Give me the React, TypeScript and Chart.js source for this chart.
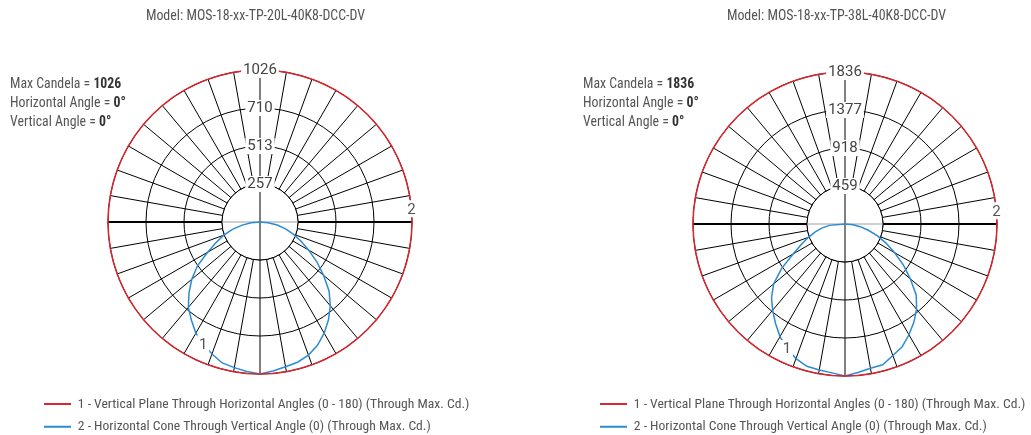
import React, { useEffect, useRef } from 'react';
import { Chart, registerables } from 'chart.js';

Chart.register(...registerables);

const FONT = '"Roboto Condensed", Roboto, sans-serif';
const NUM_FONT = 'Roboto, "Roboto Condensed", sans-serif';

// vertical angles (gamma, from nadir) at which candela values are read
const verticalAngles = [0, 5, 10, 15, 20, 25, 30, 35, 40, 45, 50, 55, 60, 65, 70, 75, 80, 85, 90, 95, 100, 105, 110, 115, 120, 125, 130, 135, 140, 145, 150, 155, 160, 165, 170, 175, 180];

const legendTexts = [
  '1 - Vertical Plane Through Horizontal Angles (0 - 180) (Through Max. Cd.)',
  '2 - Horizontal Cone Through Vertical Angle (0) (Through Max. Cd.)',
];

// ---- left chart (20L) ----
const leftModel = 'Model: MOS-18-xx-TP-20L-40K8-DCC-DV';
const leftMaxCandela = 1026;
const leftTickLabels = ['0', '257', '513', '710', '1026'];
const leftPlane0 = [1026, 1010, 992, 980, 956, 918, 866, 806, 738, 660, 560, 468, 380, 304, 239, 179, 118, 55, 0, 0, 0, 0, 0, 0, 0, 0, 0, 0, 0, 0, 0, 0, 0, 0, 0, 0, 0];
const leftPlane180 = [1026, 1013, 998, 985, 948, 907, 866, 808, 752, 678, 601, 515, 408, 327, 260, 193, 122, 60, 0, 0, 0, 0, 0, 0, 0, 0, 0, 0, 0, 0, 0, 0, 0, 0, 0, 0, 0];
const leftCone = [1026, 1026, 1026, 1026, 1026, 1026, 1026, 1026, 1026, 1026, 1026, 1026, 1026, 1026, 1026, 1026, 1026, 1026, 1026, 1026, 1026, 1026, 1026, 1026, 1026, 1026, 1026, 1026, 1026, 1026, 1026, 1026, 1026, 1026, 1026, 1026, 1026];

// ---- right chart (38L) ----
const rightModel = 'Model: MOS-18-xx-TP-38L-40K8-DCC-DV';
const rightMaxCandela = 1836;
const rightTickLabels = ['0', '459', '918', '1377', '1836'];
const rightPlane0 = [1836, 1800, 1770, 1760, 1690, 1635, 1545, 1450, 1345, 1217, 1030, 860, 690, 546, 418, 292, 186, 100, 0, 0, 0, 0, 0, 0, 0, 0, 0, 0, 0, 0, 0, 0, 0, 0, 0, 0, 0];
const rightPlane180 = [1836, 1805, 1790, 1780, 1730, 1660, 1570, 1464, 1360, 1255, 1124, 934, 720, 580, 470, 376, 285, 190, 0, 0, 0, 0, 0, 0, 0, 0, 0, 0, 0, 0, 0, 0, 0, 0, 0, 0, 0];
const rightCone = [1836, 1836, 1836, 1836, 1836, 1836, 1836, 1836, 1836, 1836, 1836, 1836, 1836, 1836, 1836, 1836, 1836, 1836, 1836, 1836, 1836, 1836, 1836, 1836, 1836, 1836, 1836, 1836, 1836, 1836, 1836, 1836, 1836, 1836, 1836, 1836, 1836];

const horizontalAngle = '0°';
const verticalAngle = '0°';

const RED = '#d7262e';
const BLUE = '#2b8bd3';

// polar spokes every 5 degrees, clockwise from the top of the diagram
const spokeAngles = Array.from({ length: 72 }, (_, i) => i * 5);

// map a spoke (clockwise from top) to the value of the right plane (0..180) or left plane
function buildSeries(rightHalf: number[], leftHalf: number[]) {
  return spokeAngles.map((theta) => {
    if (theta <= 180) return rightHalf[verticalAngles.indexOf(180 - theta)];
    return leftHalf[verticalAngles.indexOf(theta - 180)];
  });
}

const photometricPlugin = {
  id: 'photometric',
  beforeDatasetsDraw(chart: any) {
    const r = chart.scales.r;
    const ctx = chart.ctx;
    const cx = r.xCenter;
    const cy = r.yCenter;
    const hollow = r.getDistanceFromCenterForValue(r.ticks[1].value);
    ctx.save();
    ctx.fillStyle = '#fff';
    ctx.beginPath();
    ctx.arc(cx, cy, hollow, 0, Math.PI * 2);
    ctx.fill();
    ctx.lineWidth = 1;
    ctx.strokeStyle = '#000';
    ctx.stroke();
    ctx.strokeStyle = '#a0a0a0';
    ctx.beginPath();
    ctx.moveTo(cx - hollow, cy);
    ctx.lineTo(cx + hollow, cy);
    ctx.stroke();
    ctx.strokeStyle = '#000';
    ctx.beginPath();
    ctx.moveTo(cx, cy - hollow);
    ctx.lineTo(cx, cy + hollow);
    ctx.stroke();
    ctx.restore();
  },
  afterDatasetsDraw(chart: any, _args: any, opts: any) {
    const ctx = chart.ctx;
    ctx.save();
    ctx.font = `15px ${NUM_FONT}`;
    ctx.textAlign = 'center';
    ctx.textBaseline = 'middle';
    (opts.seriesLabels || []).forEach((s: any) => {
      const pt = chart.getDatasetMeta(s.datasetIndex).data[s.index];
      ctx.fillStyle = '#fff';
      ctx.fillRect(pt.x - 6, pt.y - 8.5, 12, 17);
      ctx.fillStyle = '#555';
      ctx.fillText(s.text, pt.x, pt.y + 1);
    });
    ctx.restore();
  },
  afterDraw(chart: any, _args: any, opts: any) {
    const ctx = chart.ctx;
    ctx.save();
    ctx.textBaseline = 'middle';
    ctx.fillStyle = '#555';
    ctx.font = `13.9px ${FONT}`;
    ctx.textAlign = 'center';
    ctx.fillText(opts.title, opts.titleX, 17);
    ctx.textAlign = 'left';
    const lines = [
      ['Max Candela = ', String(opts.maxCandela)],
      ['Horizontal Angle = ', opts.hAngle],
      ['Vertical Angle = ', opts.vAngle],
    ];
    lines.forEach((ln, i) => {
      const y = 85 + i * 19;
      ctx.font = `13.8px ${FONT}`;
      ctx.fillStyle = '#555';
      ctx.fillText(ln[0], opts.infoX, y);
      const w = ctx.measureText(ln[0]).width;
      ctx.font = `bold 13.8px ${FONT}`;
      ctx.fillStyle = '#333';
      ctx.fillText(ln[1], opts.infoX + w, y);
    });
    ctx.restore();
  },
};

type PanelProps = {
  left: number;
  width: number;
  top: number;
  titleX: number;
  infoX: number;
  model: string;
  maxCandela: number;
  tickLabels: string[];
  plane0: number[];
  plane180: number[];
  cone: number[];
  legendGap: number;
};

function Panel(p: PanelProps) {
  const ref = useRef<HTMLCanvasElement>(null);
  useEffect(() => {
    if (!ref.current) return;
    const chart = new Chart(ref.current, {
      type: 'radar',
      data: {
        labels: spokeAngles.map(String),
        datasets: [
          {
            label: legendTexts[0],
            data: buildSeries(p.cone, p.cone),
            borderColor: RED,
            backgroundColor: RED,
            borderWidth: 1.5,
            pointRadius: 0,
            fill: false,
          },
          {
            label: legendTexts[1],
            data: buildSeries(p.plane0, p.plane180),
            borderColor: BLUE,
            backgroundColor: BLUE,
            borderWidth: 1.5,
            pointRadius: 0,
            fill: false,
          },
        ],
      },
      options: {
        animation: false,
        responsive: true,
        maintainAspectRatio: false,
        layout: { padding: { top: p.top, left: 35, right: 35, bottom: 0.5 } },
        scales: {
          r: {
            min: 0,
            max: p.maxCandela,
            startAngle: 0,
            ticks: {
              count: 5,
              z: 1,
              color: '#444',
              font: { family: NUM_FONT, size: 15 },
              backdropColor: '#fff',
              backdropPadding: { x: 2, y: 0.5 },
              showLabelBackdrop: true,
              callback: (_v: any, i: number) => p.tickLabels[i],
            },
            grid: { circular: true, color: '#000', lineWidth: 1 },
            angleLines: {
              display: true,
              color: '#000',
              lineWidth: (c: any) => (c.index % 2 !== 0 ? 0 : c.index === 18 || c.index === 54 ? 2 : 1),
            },
            pointLabels: { display: false },
          },
        },
        plugins: {
          title: { display: false },
          tooltip: { enabled: false },
          legend: {
            position: 'bottom',
            align: 'start',
            title: { display: true, text: ' ', font: { size: p.legendGap, lineHeight: 1 }, padding: 0 },
            labels: {
              boxWidth: 27,
              boxHeight: 2,
              padding: 9,
              color: '#555',
              font: { family: FONT, size: 13.6 },
              generateLabels: (c: any) =>
                c.data.datasets.map((ds: any, i: number) => ({
                  text: ds.label,
                  fillStyle: ds.borderColor,
                  strokeStyle: ds.borderColor,
                  lineWidth: 0,
                  hidden: false,
                  datasetIndex: i,
                  fontColor: '#555',
                })),
            },
          },
          photometric: {
            title: p.model,
            titleX: p.titleX,
            infoX: p.infoX,
            maxCandela: p.maxCandela,
            hAngle: horizontalAngle,
            vAngle: verticalAngle,
            seriesLabels: [
              { datasetIndex: 1, index: 41, text: '1' },
              { datasetIndex: 0, index: 17, text: '2' },
            ],
          },
        },
      } as any,
      plugins: [photometricPlugin],
    });
    return () => chart.destroy();
  }, []);
  return (
    <div style={{ position: 'absolute', left: p.left, top: 0, width: p.width, height: 444 }}>
      <canvas ref={ref} />
    </div>
  );
}

export default function App() {
  return (
    <div style={{ position: 'absolute', left: 0, top: 0, width: 1031, height: 435, overflow: 'hidden', background: '#fff' }}>
      <Panel
        left={0}
        width={520}
        top={62}
        titleX={255.5}
        infoX={10}
        model={leftModel}
        maxCandela={leftMaxCandela}
        tickLabels={leftTickLabels}
        plane0={leftPlane0}
        plane180={leftPlane180}
        cone={leftCone}
        legendGap={4.5}
      />
      <Panel
        left={556}
        width={578}
        top={64}
        titleX={280.5}
        infoX={27}
        model={rightModel}
        maxCandela={rightMaxCandela}
        tickLabels={rightTickLabels}
        plane0={rightPlane0}
        plane180={rightPlane180}
        cone={rightCone}
        legendGap={2.5}
      />
    </div>
  );
}
